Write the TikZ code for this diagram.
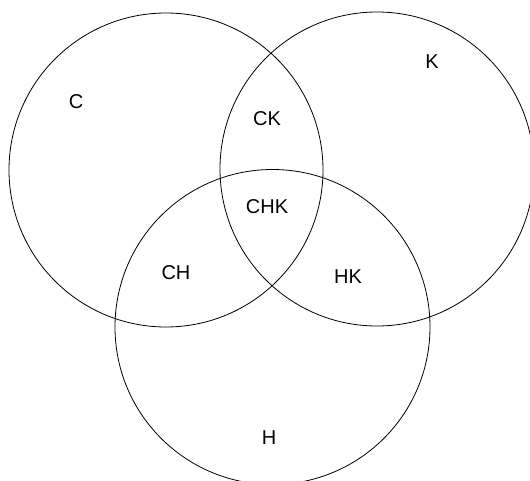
\documentclass[tikz,border=0pt]{standalone}
\usepackage{fontspec}
\setmainfont{Liberation Sans}
\usetikzlibrary{calc}
\tikzset{ring/.style={line width=0.8pt}}
\tikzset{tag/.style={font=\fontsize{20}{24}\selectfont, inner sep=0pt}}

\begin{document}
\begin{tikzpicture}[x=1pt,y=-1pt]
  \useasboundingbox (0,0) rectangle (530,481);
  \clip (0,0) rectangle (530,481);
  % circle centres
  \coordinate (Cc) at (166,170);
  \coordinate (Kc) at (377,169);
  \coordinate (Hc) at (272.5,327);
  \draw[ring] (Cc) circle[radius=157];
  \draw[ring] (Kc) circle[radius=157];
  \draw[ring] (Hc) circle[radius=157.5];
  % region labels
  \node[tag] (C) at (76,102) {C};
  \node[tag] (K) at (432,62) {K};
  \node[tag] (CK) at (267,119) {CK};
  \node[tag] (CHK) at (267,207) {CHK};
  \node[tag] (CH) at (176,273) {CH};
  \node[tag] (HK) at (348,277) {HK};
  \node[tag] (H) at (269,438) {H};
\end{tikzpicture}
\end{document}
